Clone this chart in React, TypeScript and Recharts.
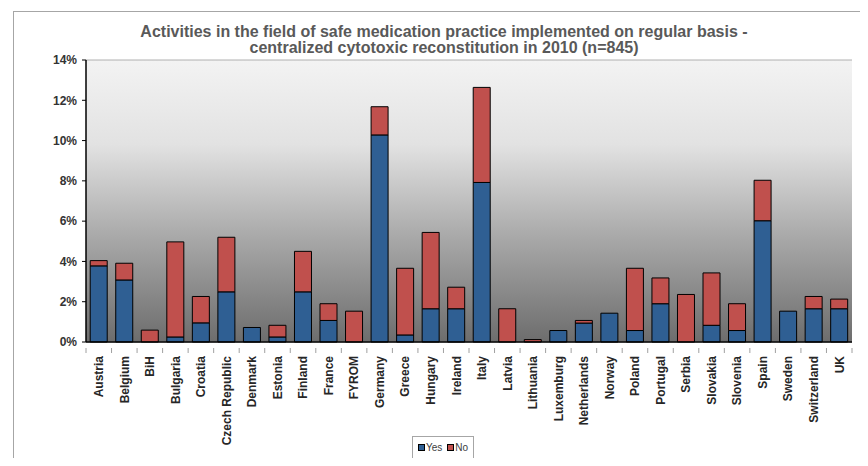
import React from "react";
import { BarChart, Bar, XAxis, YAxis, CartesianGrid } from "recharts";

const countries = [
  "Austria", "Belgium", "BiH", "Bulgaria", "Croatia", "Czech Republic", "Denmark", "Estonia",
  "Finland", "France", "FYROM", "Germany", "Greece", "Hungary", "Ireland", "Italy", "Latvia",
  "Lithuania", "Luxemburg", "Netherlands", "Norway", "Poland", "Portugal", "Serbia", "Slovakia",
  "Slovenia", "Spain", "Sweden", "Switzerland", "UK",
];
const yesValues = [
  3.78, 3.08, 0, 0.25, 0.95, 2.49, 0.72, 0.25, 2.49, 1.07, 0, 10.28, 0.35, 1.65, 1.65, 7.92, 0,
  0, 0.57, 0.94, 1.43, 0.57, 1.9, 0, 0.83, 0.57, 6.02, 1.53, 1.65, 1.65,
];
const noValues = [
  0.26, 0.83, 0.59, 4.72, 1.31, 2.71, 0, 0.58, 2.01, 0.83, 1.53, 1.4, 3.31, 3.79, 1.07, 4.72,
  1.65, 0.12, 0, 0.13, 0, 3.09, 1.28, 2.36, 2.6, 1.33, 2.01, 0, 0.61, 0.48,
];
const yTicks = [0, 2, 4, 6, 8, 10, 12, 14];
const titleLines = [
  "Activities in the field of safe medication practice implemented on regular basis -",
  "centralized cytotoxic reconstitution in 2010 (n=845)",
];

const data = countries.map((c, i) => ({ name: c, yes: yesValues[i], no: noValues[i] }));

const W = 868;
const H = 466;
const X_H = 124;
const M = { top: 60, right: 16, bottom: 0, left: 0 };
const Y_W = 86;
const PLOT_W = W - M.left - M.right - Y_W;
const SLOT = PLOT_W / countries.length;
const FONT = "'Liberation Sans', Arial, sans-serif";

const XTick = (props: any) => {
  const { x, y, payload, index } = props;
  const half = SLOT / 2;
  const axisY = y;
  return (
    <g>
      <line x1={x - half} x2={x - half} y1={axisY} y2={axisY + 5} stroke="#a0a0a0" />
      {index === countries.length - 1 && (
        <line x1={x + half} x2={x + half} y1={axisY} y2={axisY + 5} stroke="#a0a0a0" />
      )}
      <g transform={`translate(${x},${axisY})`}>
        <text
          transform="rotate(-90)"
          x={-8}
          y={0}
          dy="0.36em"
          textAnchor="end"
          fontFamily={FONT}
          fontSize={12}
          fontWeight="bold"
          fill="#262626"
        >
          {payload.value}
        </text>
      </g>
    </g>
  );
};

export default function App() {
  return (
    <div style={{ position: "relative", width: W, height: H, margin: -8, overflow: "hidden", background: "#fff" }}>
      <svg width={0} height={0} style={{ position: "absolute" }}>
        <defs>
          <linearGradient id="plotBg" x1="0" y1="0" x2="0" y2="1">
            <stop offset="0%" stopColor="#f3f3f3" />
            <stop offset="30%" stopColor="#e2e2e2" />
            <stop offset="62%" stopColor="#aaaaaa" />
            <stop offset="100%" stopColor="#6d6d6d" />
          </linearGradient>
        </defs>
      </svg>
      <div
        style={{
          position: "absolute",
          left: 13,
          top: 11,
          width: 900,
          height: 500,
          borderLeft: "1px solid #a6a6a6",
          borderTop: "1px solid #a6a6a6",
        }}
      />
      <div style={{ position: "absolute", left: 0, top: 0 }}>
        <BarChart width={W} height={H} data={data} margin={M} barCategoryGap="16.5%">
          <CartesianGrid vertical={false} stroke="#9e9e9e" strokeOpacity={0.8} fill="url(#plotBg)" fillOpacity={1} />
          <XAxis
            dataKey="name"
            interval={0}
            tickLine={false}
            tick={<XTick />}
            tickMargin={0}
            height={X_H}
            axisLine={{ stroke: "#000", strokeWidth: 1.5 }}
          />
          <YAxis
            yAxisId="left"
            domain={[0, 14]}
            ticks={yTicks}
            width={Y_W}
            interval={0}
            tickFormatter={(v: number) => `${v}%`}
            tickSize={4}
            tickMargin={5}
            tickLine={{ stroke: "#000" }}
            axisLine={{ stroke: "#000", strokeWidth: 1.5 }}
            tick={{ fontFamily: FONT, fontSize: 12, fontWeight: "bold", fill: "#333" }}
          />
          <YAxis
            yAxisId="right"
            orientation="right"
            domain={[0, 14]}
            width={0}
            tick={false}
            tickLine={false}
            axisLine={{ stroke: "#a6a6a6" }}
          />
          <Bar yAxisId="left" dataKey="yes" stackId="a" fill="#2f5f93" stroke="#000" strokeWidth={1} isAnimationActive={false} />
          <Bar yAxisId="left" dataKey="no" stackId="a" fill="#c0504d" stroke="#000" strokeWidth={1} isAnimationActive={false} />
        </BarChart>
      </div>
      <div
        style={{
          position: "absolute",
          left: 0,
          width: 888,
          top: 24,
          textAlign: "center",
          fontFamily: FONT,
          fontSize: 16,
          fontWeight: "bold",
          color: "#595959",
          lineHeight: "16px",
        }}
      >
        {titleLines.map((t) => (
          <div key={t}>{t}</div>
        ))}
      </div>
      <div
        style={{
          position: "absolute",
          left: 412,
          top: 436,
          width: 60,
          height: 21,
          border: "1px solid #a6a6a6",
          fontFamily: FONT,
          fontSize: 10,
          color: "#404040",
          display: "flex",
          alignItems: "center",
          justifyContent: "center",
          gap: 5,
          boxSizing: "content-box",
        }}
      >
        {[
          { label: "Yes", color: "#2f5f93" },
          { label: "No", color: "#c0504d" },
        ].map((it) => (
          <span key={it.label} style={{ display: "flex", alignItems: "center" }}>
            <span
              style={{
                display: "inline-block",
                width: 5,
                height: 5,
                background: it.color,
                border: "1px solid #000",
                marginRight: 1,
              }}
            />
            {it.label}
          </span>
        ))}
      </div>
    </div>
  );
}
